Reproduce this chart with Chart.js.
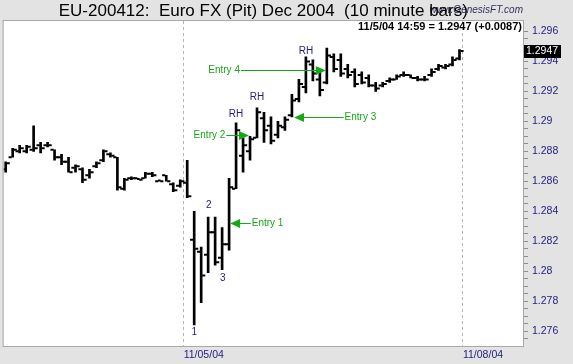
<!DOCTYPE html>
<html lang="en">
<head>
<meta charset="UTF-8">
<title>EU-200412: Euro FX (Pit) Dec 2004 (10 minute bars)</title>
<script src="https://cdn.jsdelivr.net/npm/chart.js"></script>
<style>
  html, body { margin: 0; padding: 0; background: #e3e3e3; }
  #wrap { width: 573px; height: 364px; }
</style>
</head>
<body>
<div id="wrap"><canvas id="chart" width="573" height="364"></canvas></div>
<script>
// 10 minute bars, Thu 11/04 (bars 0-25) and Fri 11/05 (bars 26-65)
const opens = [
  1.2868, 1.2876, 1.2880, 1.2880, 1.2881, 1.2884, 1.2884, 1.2881, 1.2876, 1.2873,
  1.2869, 1.2868, 1.2864, 1.2870, 1.2874, 1.2878, 1.2876, 1.2855, 1.2862, 1.2862,
  1.2862, 1.2865, 1.2860, 1.2864, 1.2858, 1.2857,
  1.2859, 1.2821, 1.2813, 1.2811, 1.2826, 1.2809, 1.2818, 1.2855, 1.2877, 1.2880,
  1.2889, 1.2902, 1.2897, 1.2891, 1.2896, 1.2904, 1.2915, 1.2923, 1.2938, 1.2928,
  1.2926, 1.2943, 1.2941, 1.2935, 1.2933, 1.2931, 1.2929, 1.2924, 1.2924, 1.2927,
  1.2928, 1.2931, 1.2931, 1.2929, 1.2928, 1.2931, 1.2935, 1.2936, 1.2938, 1.2942
];
const highs = [
  1.2873, 1.2882, 1.2884, 1.2884, 1.2897, 1.2886, 1.2886, 1.2881, 1.2878, 1.2876,
  1.2871, 1.2869, 1.2868, 1.2873, 1.2881, 1.2879, 1.2876, 1.2862, 1.2863, 1.2862,
  1.2866, 1.2866, 1.2861, 1.2864, 1.2859, 1.2861,
  1.2874, 1.2840, 1.2816, 1.2836, 1.2836, 1.2829, 1.2862, 1.2899, 1.2889, 1.2890,
  1.2909, 1.2906, 1.2903, 1.2900, 1.2903, 1.2918, 1.2928, 1.2943, 1.2941, 1.2933,
  1.2949, 1.2945, 1.2945, 1.2938, 1.2935, 1.2933, 1.2931, 1.2926, 1.2926, 1.2929,
  1.2931, 1.2933, 1.2931, 1.2930, 1.2930, 1.2935, 1.2938, 1.2938, 1.2943, 1.2948
];
const lows = [
  1.2866, 1.2876, 1.2879, 1.2879, 1.2880, 1.2879, 1.2883, 1.2874, 1.2871, 1.2866,
  1.2866, 1.2859, 1.2862, 1.2869, 1.2873, 1.2876, 1.2854, 1.2854, 1.2861, 1.2861,
  1.2862, 1.2863, 1.2860, 1.2860, 1.2853, 1.2856,
  1.2849, 1.2764, 1.2779, 1.2799, 1.2804, 1.2801, 1.2814, 1.2855, 1.2866, 1.2874,
  1.2889, 1.2886, 1.2885, 1.2889, 1.2894, 1.2903, 1.2913, 1.2919, 1.2927, 1.2917,
  1.2925, 1.2933, 1.2930, 1.2929, 1.2923, 1.2925, 1.2923, 1.2920, 1.2923, 1.2926,
  1.2928, 1.2930, 1.2929, 1.2927, 1.2927, 1.2930, 1.2934, 1.2935, 1.2937, 1.2941
];
const closes = [
  1.2872, 1.2881, 1.2882, 1.2883, 1.2882, 1.2882, 1.2884, 1.2876, 1.2873, 1.2866,
  1.2870, 1.2861, 1.2866, 1.2872, 1.2880, 1.2877, 1.2856, 1.2861, 1.2862, 1.2861,
  1.2865, 1.2864, 1.2860, 1.2860, 1.2854, 1.2860,
  1.2850, 1.2815, 1.2797, 1.2826, 1.2806, 1.2818, 1.2856, 1.2894, 1.2884, 1.2888,
  1.2906, 1.2894, 1.2887, 1.2897, 1.2901, 1.2914, 1.2925, 1.2940, 1.2932, 1.2921,
  1.2944, 1.2935, 1.2932, 1.2931, 1.2925, 1.2926, 1.2924, 1.2922, 1.2925, 1.2928,
  1.2930, 1.2931, 1.2929, 1.2928, 1.2928, 1.2933, 1.2937, 1.2937, 1.2941, 1.2947
];

// session starts (between bars) and their date labels
const dayTicks = [25.5, 65.5];
const dayLabels = ['11/05/04', '11/08/04'];
const priceTicks = [1.276, 1.278, 1.28, 1.282, 1.284, 1.286, 1.288, 1.29, 1.292, 1.294, 1.296];

// wave counts / reaction highs
const waveLabels = [
  { text: '1', bar: 27, price: 1.2759 },
  { text: '2', bar: 29.1, price: 1.2844 },
  { text: '3', bar: 31.1, price: 1.2795 },
  { text: 'RH', bar: 33, price: 1.2905 },
  { text: 'RH', bar: 36, price: 1.2916 },
  { text: 'RH', bar: 43, price: 1.2947 }
];
// entry arrows: tip at bar/price, line back to tail
const entries = [
  { text: 'Entry 1', bar: 32.15, price: 1.2832, tail: 35.1 },
  { text: 'Entry 2', bar: 34.85, price: 1.2891, tail: 31.6 },
  { text: 'Entry 3', bar: 41.3, price: 1.2903, tail: 48.4 },
  { text: 'Entry 4', bar: 45.85, price: 1.2934, tail: 33.7 }
];

const titleText = 'EU-200412:  Euro FX (Pit) Dec 2004  (10 minute bars)';
const lastText = '11/5/04 14:59 = 1.2947 (+0.0087)';
const FONT = '"Liberation Sans", Arial, sans-serif';
const NAVY = '#23237e';
const GREEN = '#14a814';

const idx = opens.map((_, i) => i);
const tickOff = 0.36;

const chartDecor = {
  id: 'chartDecor',
  beforeDraw(chart) {
    const { ctx, chartArea: a, width, height } = chart;
    ctx.save();
    ctx.fillStyle = '#e3e3e3';
    ctx.fillRect(0, 0, width, height);
    ctx.fillStyle = '#ffffff';
    ctx.fillRect(a.left, a.top, a.right - a.left, a.bottom - a.top);
    ctx.restore();
  },
  afterDraw(chart) {
    const { ctx, chartArea: a, scales } = chart;
    const xs = scales.x, ys = scales.y;
    ctx.save();
    // frame
    ctx.strokeStyle = '#a9a9a9';
    ctx.lineWidth = 1;
    ctx.strokeRect(a.left - 0.5, a.top - 0.5, a.right - a.left + 1, a.bottom - a.top + 1);

    // header texts
    ctx.fillStyle = '#303060';
    ctx.font = 'italic 10px ' + FONT;
    ctx.textAlign = 'right';
    ctx.textBaseline = 'alphabetic';
    ctx.fillText('www.GenesisFT.com', a.right, 13);
    ctx.fillStyle = '#000';
    ctx.font = '17px ' + FONT;
    ctx.textAlign = 'center';
    ctx.fillText(titleText, (a.left + a.right) / 2, 16);
    ctx.font = 'bold 11px ' + FONT;
    ctx.textAlign = 'right';
    ctx.fillText(lastText, a.right - 1, 30);

    // wave labels
    ctx.font = '10px ' + FONT;
    ctx.fillStyle = NAVY;
    ctx.textAlign = 'center';
    ctx.textBaseline = 'middle';
    waveLabels.forEach(l => {
      ctx.fillText(l.text, xs.getPixelForValue(l.bar), ys.getPixelForValue(l.price));
    });

    // entry arrows
    ctx.strokeStyle = GREEN;
    ctx.fillStyle = GREEN;
    ctx.lineWidth = 1;
    entries.forEach(e => {
      const tx = xs.getPixelForValue(e.bar);
      const ty = Math.round(ys.getPixelForValue(e.price)) + 0.5;
      const lx = xs.getPixelForValue(e.tail);
      const dir = lx > tx ? 1 : -1;
      ctx.beginPath();
      ctx.moveTo(lx, ty);
      ctx.lineTo(tx + dir * 8, ty);
      ctx.stroke();
      ctx.beginPath();
      ctx.moveTo(tx, ty);
      ctx.lineTo(tx + dir * 10, ty - 4.5);
      ctx.lineTo(tx + dir * 10, ty + 4.5);
      ctx.closePath();
      ctx.fill();
      ctx.textAlign = dir > 0 ? 'left' : 'right';
      ctx.fillText(e.text, lx + dir * 1, ty);
    });

    // last price marker
    const last = closes[closes.length - 1];
    const py = ys.getPixelForValue(last);
    ctx.fillStyle = '#000';
    ctx.fillRect(a.right + 1, Math.round(py) - 6, 37, 13);
    ctx.fillStyle = '#fff';
    ctx.font = '10.5px ' + FONT;
    ctx.textAlign = 'left';
    ctx.fillText(last.toFixed(4), a.right + 3, Math.round(py) + 0.5);
    ctx.restore();
  }
};

new Chart(document.getElementById('chart'), {
  type: 'bar',
  data: {
    datasets: [
      {
        type: 'bar',
        data: idx.map(i => ({ x: i, y: [lows[i], highs[i]] })),
        backgroundColor: '#000',
        borderWidth: 0,
        barThickness: 2
      },
      {
        type: 'scatter',
        data: idx.map(i => ({ x: i - tickOff, y: opens[i] })),
        pointStyle: 'line',
        pointRadius: 1.6,
        pointHoverRadius: 1.6,
        borderColor: '#000',
        pointBorderWidth: 2
      },
      {
        type: 'scatter',
        data: idx.map(i => ({ x: i + tickOff, y: closes[i] })),
        pointStyle: 'line',
        pointRadius: 1.6,
        pointHoverRadius: 1.6,
        borderColor: '#000',
        pointBorderWidth: 2
      }
    ]
  },
  options: {
    responsive: false,
    animation: false,
    events: [],
    layout: { padding: { top: 21, left: 2, right: 0, bottom: 0 } },
    plugins: { legend: { display: false }, tooltip: { enabled: false }, title: { display: false } },
    scales: {
      x: {
        type: 'linear',
        min: -0.3,
        max: 74.1,
        offset: false,
        afterBuildTicks: s => { s.ticks = dayTicks.map(v => ({ value: v })); },
        afterFit: s => { s.height = 18; },
        grid: { color: '#b4b4b4', lineWidth: 1, drawTicks: false, offset: false },
        border: { display: false, dash: [3, 3] },
        ticks: {
          autoSkip: false,
          maxRotation: 0,
          align: 'start',
          padding: 3,
          color: NAVY,
          font: { family: FONT, size: 10.5 },
          callback: (v, i) => dayLabels[i]
        }
      },
      y: {
        type: 'linear',
        position: 'right',
        min: 1.275,
        max: 1.2967,
        afterBuildTicks: s => {
          const t = [];
          for (let k = 0; k <= 41; k++) t.push({ value: 1.2755 + k * 0.0005 });
          s.ticks = t;
        },
        afterFit: s => { s.width = 50; },
        grid: { drawOnChartArea: false, drawTicks: true, tickLength: 5, tickColor: '#8c8c8c' },
        border: { display: false },
        ticks: {
          autoSkip: false,
          padding: 4,
          color: NAVY,
          font: { family: FONT, size: 10.5 },
          callback: v => {
            const hit = priceTicks.find(p => Math.abs(p - v) < 1e-7);
            return hit === undefined ? '' : String(hit);
          }
        }
      }
    }
  },
  plugins: [chartDecor]
});
</script>
</body>
</html>
